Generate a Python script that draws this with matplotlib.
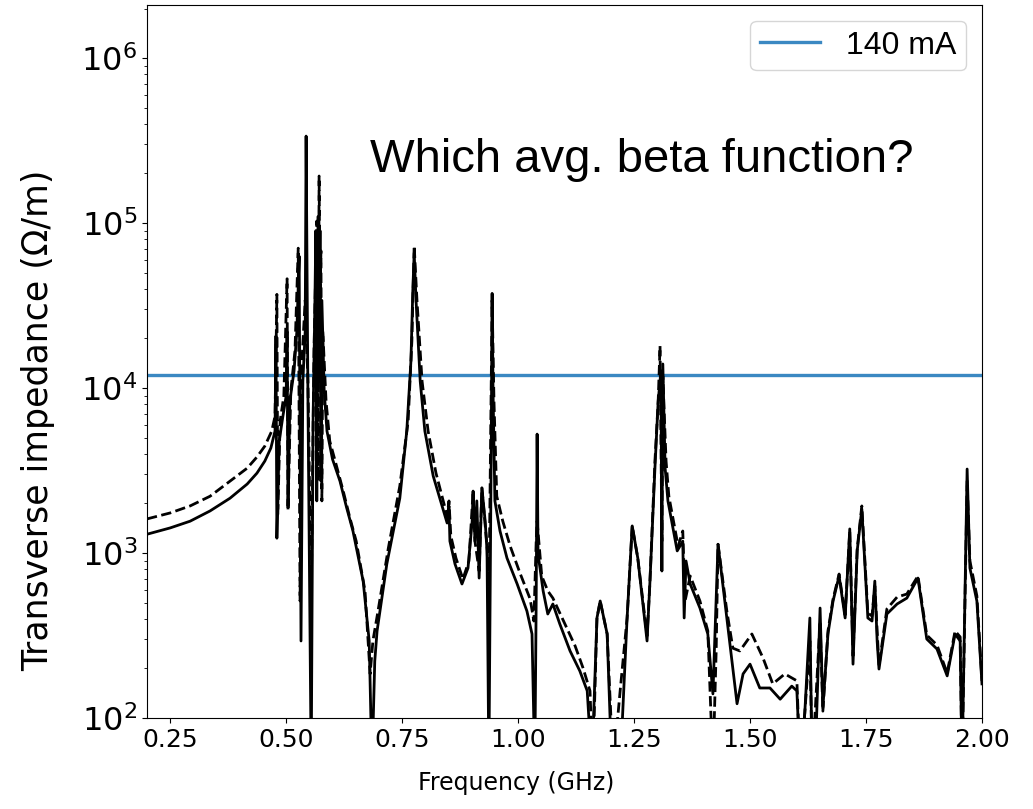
import numpy as np
import matplotlib.pyplot as plt

# frequency (GHz) and transverse impedance (Ohm/m), solid curve
freq_a = [0.200, 0.250, 0.293, 0.336, 0.379, 0.416, 0.437, 0.454, 0.467, 0.476,
          0.478, 0.480, 0.485, 0.493, 0.500, 0.502, 0.504, 0.508, 0.517, 0.523,
          0.528, 0.532, 0.536, 0.541, 0.543, 0.547, 0.554, 0.558, 0.562, 0.564,
          0.566, 0.569, 0.571, 0.573, 0.575, 0.577, 0.582, 0.588, 0.600, 0.616,
          0.630, 0.644, 0.666, 0.679, 0.685, 0.691, 0.696, 0.717, 0.745, 0.760,
          0.769, 0.773, 0.776, 0.780, 0.789, 0.799, 0.817, 0.847, 0.851, 0.853,
          0.864, 0.879, 0.892, 0.901, 0.903, 0.907, 0.911, 0.916, 0.922, 0.929,
          0.933, 0.937, 0.942, 0.944, 0.946, 0.950, 0.961, 0.976, 0.998, 1.019,
          1.030, 1.036, 1.039, 1.041, 1.043, 1.054, 1.064, 1.075, 1.090, 1.112,
          1.133, 1.149, 1.159, 1.170, 1.177, 1.192, 1.202, 1.220, 1.235, 1.246,
          1.258, 1.278, 1.284, 1.295, 1.302, 1.308, 1.310, 1.312, 1.317, 1.323,
          1.343, 1.355, 1.358, 1.362, 1.371, 1.392, 1.409, 1.420, 1.431, 1.450,
          1.472, 1.485, 1.500, 1.521, 1.543, 1.565, 1.590, 1.601, 1.608, 1.618,
          1.629, 1.634, 1.640, 1.651, 1.657, 1.668, 1.679, 1.692, 1.705, 1.715,
          1.722, 1.731, 1.741, 1.754, 1.763, 1.769, 1.774, 1.778, 1.795, 1.817,
          1.838, 1.862, 1.881, 1.903, 1.925, 1.942, 1.953, 1.957, 1.968, 1.974,
          1.989, 2.000]
imp_a = [1300, 1420, 1560, 1800, 2150, 2620, 3050, 3610, 4330, 5490,
         20700, 1230, 4770, 6760, 8950, 22000, 1930, 8340, 12700, 22000,
         63000, 293, 11000, 22000, 337000, 8340, 50, 6310, 34000, 90000,
         2070, 110000, 11000, 90000, 2730, 34000, 9590, 5490, 3700, 2730,
         1900, 1360, 676, 293, 50, 221, 337, 858, 2150, 5490,
         14600, 38700, 66000, 34000, 11000, 5490, 2930, 1520, 1930, 1180,
         858, 649, 811, 1560, 2375, 1180, 2070, 705, 2480, 1560,
         1030, 50, 4150, 37500, 9590, 2070, 1360, 933, 649, 445,
         323, 50, 512, 5260, 986, 589, 427, 491, 371, 255,
         193, 146, 50, 404, 512, 323, 50, 50, 404, 1460,
         933, 293, 649, 3270, 8340, 12700, 778, 14000, 3270, 2070,
         1030, 1180, 404, 895, 649, 464, 323, 140, 1130, 404,
         122, 185, 212, 152, 152, 130, 156, 146, 50, 107,
         404, 50, 50, 464, 115, 323, 512, 726, 404, 1400,
         212, 1030, 1850, 404, 387, 676, 293, 198, 427, 491,
         533, 705, 301, 262, 180, 323, 293, 50, 3230, 811,
         512, 161]

# dashed curve
freq_b = [0.200, 0.250, 0.293, 0.336, 0.379, 0.416, 0.437, 0.454, 0.469, 0.476,
          0.480, 0.482, 0.487, 0.495, 0.502, 0.504, 0.510, 0.519, 0.526, 0.530,
          0.534, 0.541, 0.547, 0.554, 0.560, 0.566, 0.569, 0.571, 0.573, 0.575,
          0.577, 0.579, 0.586, 0.594, 0.607, 0.623, 0.637, 0.651, 0.670, 0.681,
          0.687, 0.698, 0.720, 0.745, 0.763, 0.771, 0.776, 0.782, 0.793, 0.806,
          0.823, 0.847, 0.851, 0.855, 0.866, 0.881, 0.894, 0.903, 0.907, 0.916,
          0.922, 0.933, 0.937, 0.944, 0.948, 0.954, 0.967, 0.983, 1.004, 1.026,
          1.034, 1.039, 1.041, 1.051, 1.064, 1.075, 1.090, 1.105, 1.123, 1.140,
          1.155, 1.161, 1.170, 1.177, 1.192, 1.205, 1.220, 1.235, 1.246, 1.258,
          1.278, 1.284, 1.295, 1.302, 1.306, 1.310, 1.312, 1.319, 1.325, 1.345,
          1.355, 1.360, 1.371, 1.392, 1.409, 1.420, 1.427, 1.431, 1.450, 1.463,
          1.478, 1.504, 1.528, 1.549, 1.575, 1.601, 1.608, 1.618, 1.629, 1.634,
          1.651, 1.657, 1.668, 1.679, 1.692, 1.705, 1.715, 1.722, 1.731, 1.741,
          1.754, 1.763, 1.769, 1.778, 1.795, 1.817, 1.838, 1.862, 1.881, 1.903,
          1.925, 1.942, 1.953, 1.957, 1.968, 1.974, 1.989, 2.000]
imp_b = [1610, 1750, 1930, 2210, 2730, 3270, 3820, 4450, 5490, 6760,
         37000, 1720, 6310, 8950, 46000, 1800, 9590, 16800, 70500, 512,
         14600, 34000, 11000, 512, 16800, 103000, 2730, 193000, 34000, 68000,
         2070, 22000, 8340, 4770, 3500, 2375, 1650, 1180, 589, 185,
         293, 445, 1060, 2550, 6310, 19300, 73000, 34000, 11000, 5490,
         3050, 1680, 2070, 1270, 933, 695, 895, 2375, 1180, 778,
         2480, 1100, 512, 34000, 8340, 2210, 1560, 1100, 757, 526,
         387, 1180, 1560, 726, 589, 533, 433, 351, 273, 201,
         146, 50, 404, 512, 323, 50, 146, 404, 1460, 933,
         314, 649, 3610, 8340, 18000, 1180, 11800, 3610, 2210, 1100,
         1360, 512, 726, 512, 337, 50, 255, 1130, 445, 265,
         255, 323, 231, 161, 185, 168, 50, 107, 293, 50,
         387, 110, 337, 526, 746, 421, 1360, 238, 1060, 1930,
         433, 415, 631, 207, 458, 541, 564, 726, 318, 277,
         187, 337, 310, 50, 2730, 895, 550, 168]

threshold = 1.2e4
threshold_label = '140 mA'
xticks = [0.25, 0.50, 0.75, 1.00, 1.25, 1.50, 1.75, 2.00]

fig = plt.figure(figsize=(10.33, 8.09), dpi=100)
ax = fig.add_axes([0.1423, 0.1125, 0.8083, 0.8813])

ax.axhline(threshold, color='#3b88c2', lw=2.4, label=threshold_label, zorder=1)
ax.plot(freq_a, imp_a, color='k', lw=2.0, zorder=2)
ax.plot(freq_b, imp_b, color='k', lw=2.0, ls='--', zorder=2)

ax.set_yscale('log')
ax.set_xlim(0.2, 2.0)
ax.set_ylim(1e2, 2.1e6)
ax.set_xticks(xticks)
ax.set_xticklabels(['%.2f' % t for t in xticks])
ax.tick_params(axis='x', labelsize=18)
ax.tick_params(axis='y', labelsize=23)

ax.set_xlabel('Frequency (GHz)', fontsize=17)
ax.xaxis.set_label_coords(0.442, -0.074)
ax.set_ylabel('Transverse impedance (\u03a9/m)', fontsize=25)
ax.yaxis.set_label_coords(-0.110, 0.418)

leg = ax.legend(loc='upper right', handlelength=1.9, borderpad=0.3,
                prop={'family': 'Liberation Sans', 'size': 23})

ax.text(0.267, 0.783, 'Which avg. beta function?', transform=ax.transAxes,
        family='Liberation Sans', fontsize=34, va='center', ha='left')

fig.savefig('out.png', dpi=100)
